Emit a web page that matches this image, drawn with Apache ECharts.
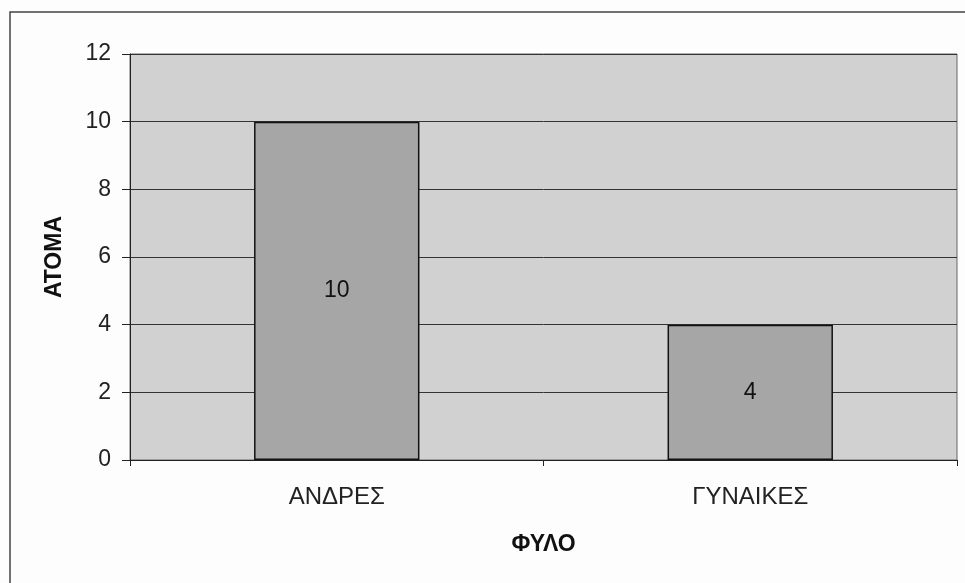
<!DOCTYPE html>
<html>
<head>
<meta charset="utf-8">
<script src="https://cdn.jsdelivr.net/npm/echarts@6/dist/echarts.min.js"></script>
<style>
  html, body { margin: 0; padding: 0; background: #fff; }
  #main { width: 965px; height: 583px; }
</style>
</head>
<body>
<div id="main"></div>
<script>
var categories = ['ΑΝΔΡΕΣ', 'ΓΥΝΑΙΚΕΣ'];
var values = [10, 4];
var yTicks = [0, 2, 4, 6, 8, 10, 12];

var chartDom = document.getElementById('main');
var myChart = echarts.init(chartDom);
var font = '"Liberation Sans", Arial, sans-serif';

var option = {
  backgroundColor: '#fdfdfd',
  animation: false,
  graphic: [
    {
      type: 'rect',
      shape: { x: 10, y: 12, width: 1000, height: 1000 },
      style: { fill: 'none', stroke: '#444', lineWidth: 1.5 },
      z: 0
    }
  ],
  grid: {
    left: 130,
    right: 8,
    top: 54,
    bottom: 123,
    show: true,
    backgroundColor: '#d1d1d1',
    borderColor: '#666',
    borderWidth: 1
  },
  xAxis: {
    type: 'category',
    data: categories,
    name: 'ΦΥΛΟ',
    nameLocation: 'middle',
    nameGap: 73,
    nameTextStyle: { fontFamily: font, fontSize: 23, fontWeight: 'bold', color: '#111' },
    axisLine: { lineStyle: { color: '#222', width: 1 } },
    axisTick: { show: true, alignWithLabel: false, length: 6, lineStyle: { color: '#222' } },
    axisLabel: { fontFamily: font, fontSize: 24, color: '#222', margin: 25 }
  },
  yAxis: {
    type: 'value',
    min: 0,
    max: yTicks[yTicks.length - 1],
    interval: 2,
    name: 'ΑΤΟΜΑ',
    nameLocation: 'middle',
    nameGap: 64,
    nameTextStyle: { fontFamily: font, fontSize: 23, fontWeight: 'bold', color: '#111' },
    axisLine: { show: true, lineStyle: { color: '#222', width: 1 } },
    axisTick: { show: true, length: 8, lineStyle: { color: '#222' } },
    axisLabel: { fontFamily: font, fontSize: 23, color: '#222', margin: 19 },
    splitLine: { lineStyle: { color: '#333', width: 1 } }
  },
  series: [
    {
      type: 'bar',
      data: values,
      barWidth: '40%',
      itemStyle: { color: '#a6a6a6', borderColor: '#111', borderWidth: 1.5 },
      label: {
        show: true,
        position: 'inside',
        fontFamily: font,
        fontSize: 23,
        color: '#111'
      }
    }
  ]
};

option && myChart.setOption(option);
</script>
</body>
</html>
